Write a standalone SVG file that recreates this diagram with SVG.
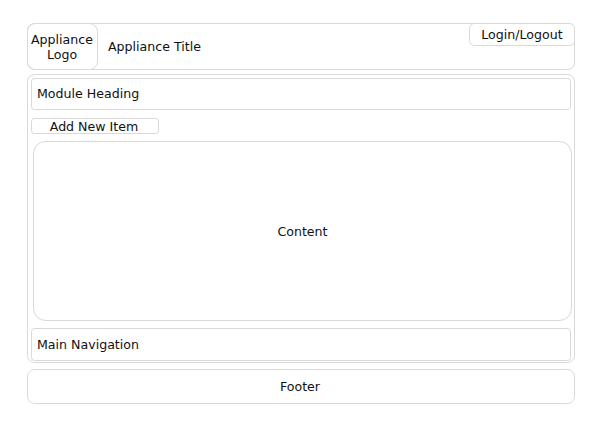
<svg xmlns="http://www.w3.org/2000/svg" width="600" height="425" viewBox="0 0 600 425">
<style>
.box{fill:#fff;stroke:#d9d9d9;stroke-width:1}
.t{font-family:"DejaVu Sans",Verdana,sans-serif;font-size:12.6px;fill:#111}
.c{text-anchor:middle}
</style>
<rect width="600" height="425" fill="#fff"/>
<g id="header">
<rect class="box" x="27.5" y="23.5" width="547" height="46" rx="7"/>
<text class="t" x="108" y="51">Appliance Title</text>
</g>
<g id="logo">
<rect class="box" x="27.5" y="23.5" width="70" height="46" rx="8"/>
<text class="t c" x="62" y="44">Appliance</text>
<text class="t c" x="62" y="59">Logo</text>
</g>
<g id="login">
<rect class="box" x="469.5" y="23.5" width="105" height="22" rx="5"/>
<text class="t c" x="522" y="39">Login/Logout</text>
</g>
<g id="main">
<rect class="box" x="27.5" y="74.5" width="547" height="288" rx="7"/>
</g>
<g id="module-heading">
<rect class="box" x="31.5" y="78.5" width="539" height="31" rx="3"/>
<text class="t" x="37" y="98">Module Heading</text>
</g>
<g id="add-new-item">
<rect class="box" x="31.5" y="118.5" width="127" height="15" rx="3"/>
<text class="t c" x="94" y="130.5">Add New Item</text>
</g>
<g id="content">
<rect class="box" x="33.5" y="141.5" width="538" height="179" rx="12"/>
<text class="t c" x="302.5" y="236">Content</text>
</g>
<g id="main-navigation">
<rect class="box" x="31.5" y="328.5" width="539" height="32" rx="3"/>
<text class="t" x="37" y="348.5">Main Navigation</text>
</g>
<g id="footer">
<rect class="box" x="27.5" y="369.5" width="547" height="34" rx="7"/>
<text class="t c" x="300" y="390.5">Footer</text>
</g>
<g id="connectors"></g>
</svg>
